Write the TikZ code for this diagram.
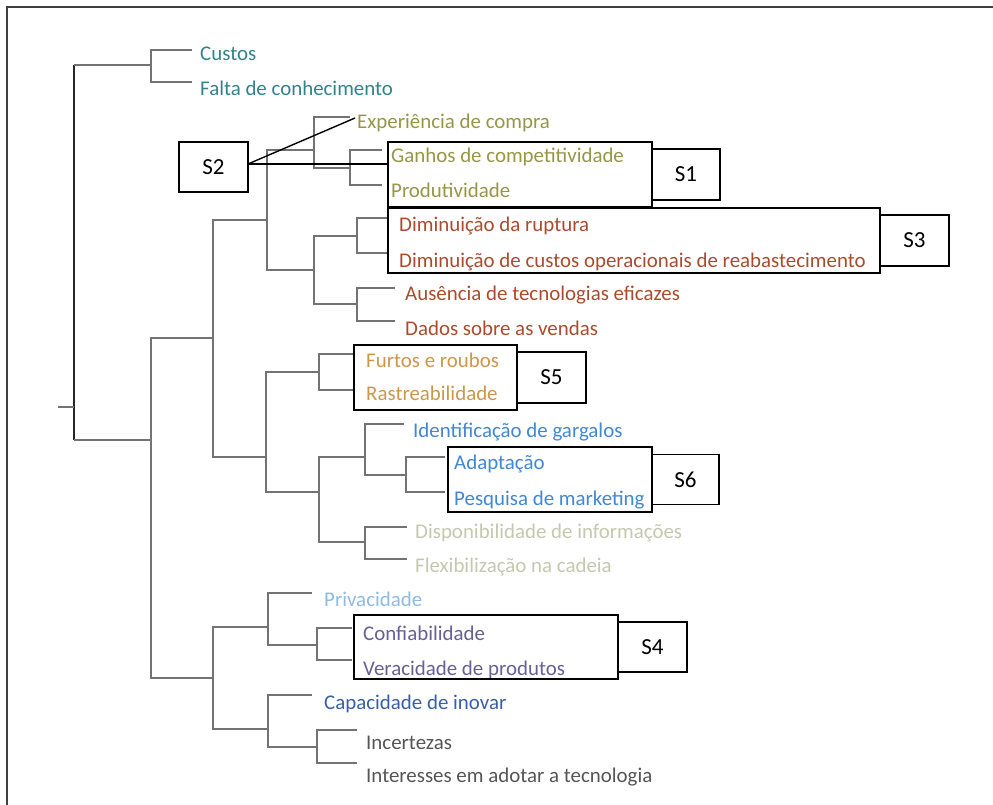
\documentclass[tikz,border=0pt]{standalone}
\usepackage{fontspec}
\setmainfont{Carlito}
\usepackage{xcolor}
\usepackage{tikz}
\usetikzlibrary{positioning}

\definecolor{treegray}{RGB}{115,115,115}
\definecolor{cteal}{RGB}{50,130,140}
\definecolor{colive}{RGB}{150,150,70}
\definecolor{cbrown}{RGB}{170,75,45}
\definecolor{ctan}{RGB}{205,150,75}
\definecolor{cblue}{RGB}{65,135,210}
\definecolor{cpale}{RGB}{195,200,175}
\definecolor{clight}{RGB}{145,185,225}
\definecolor{cpurple}{RGB}{105,95,150}
\definecolor{cnavy}{RGB}{55,95,170}
\definecolor{cgray}{RGB}{85,85,85}

\begin{document}
\begin{tikzpicture}[x=1pt,y=-1pt]
	\useasboundingbox (0,0) rectangle (993,805);
	\draw[line width=2pt,black!75] (7,805) -- (7,7) -- (993,7);
	
	\begin{scope}[line width=2.8pt,draw=treegray]
		\draw[black!85,line width=1.7pt] (74,65) -- (74,440);
		\draw (58,407) -- (74,407);
		\draw (74,65) -- (151,65);
		\draw (74,440) -- (151,440);
		\draw (192,50) -| (151,82) -- (192,82);
		\draw (213,338) -| (151,678) -- (213,678);
		\draw (267,220) -| (213,457) -- (266,457);
		\draw (314,150) -| (267,270) -- (314,270);
		\draw (350,117) -| (314,168) -- (350,168);
		\draw (382,150) -| (350,185) -- (382,185);
		\draw (357,236) -| (314,304) -- (357,304);
		\draw (387,218) -| (357,253) -- (387,253);
		\draw (395,288) -| (357,321) -- (395,321);
		\draw (319,372) -| (266,492) -- (319,492);
		\draw (355,354) -| (319,390) -- (355,390);
		\draw (365,457) -| (319,542) -- (365,542);
		\draw (404,424) -| (365,475) -- (406,475);
		\draw (445,457) -| (406,492) -- (445,492);
		\draw (407,527) -| (365,559) -- (407,559);
		\draw (268,627) -| (213,729) -- (268,729);
		\draw (312,593) -| (268,645) -- (317,645);
		\draw (352,628) -| (317,660) -- (352,660);
		\draw (312,695) -| (268,747) -- (317,747);
		\draw (357,730) -| (317,763) -- (357,763);
	\end{scope}
	
	\begin{scope}[every node/.style={anchor=base west,inner sep=0pt,
			font=\fontsize{20.9}{24}\selectfont}]
		\node[text=cteal] (custos) at (200,61) {Custos};
		\node[text=cteal] (falta) at (200,96) {Falta de conhecimento};
		\node[text=colive] (experiencia) at (357,129) {Experiência de compra};
		\node[text=colive] (ganhos) at (391,163) {Ganhos de competitividade};
		\node[text=colive] (produtividade) at (391,197) {Produtividade};
		\node[text=cbrown] (ruptura) at (399,231) {Diminuição da ruptura};
		\node[text=cbrown] (reabast) at (399,267) {Diminuição de custos operacionais de reabastecimento};
		\node[text=cbrown] (ausencia) at (405,300) {Ausência de tecnologias eficazes};
		\node[text=cbrown] (dados) at (405,335) {Dados sobre as vendas};
		\node[text=ctan] (furtos) at (366,367) {Furtos e roubos};
		\node[text=ctan] (rastreab) at (366,400) {Rastreabilidade};
		\node[text=cblue] (gargalos) at (413,437) {Identificação de gargalos};
		\node[text=cblue] (adaptacao) at (454,469) {Adaptação};
		\node[text=cblue] (pesquisa) at (454,505) {Pesquisa de marketing};
		\node[text=cpale] (disponib) at (415,538) {Disponibilidade de informações};
		\node[text=cpale] (flexib) at (415,572) {Flexibilização na cadeia};
		\node[text=clight] (privacidade) at (324,606) {Privacidade};
		\node[text=cpurple] (confiab) at (363,640) {Confiabilidade};
		\node[text=cpurple] (veracidade) at (363,675) {Veracidade de produtos};
		\node[text=cnavy] (inovar) at (324,709) {Capacidade de inovar};
		\node[text=cgray] (incertezas) at (366,749) {Incertezas};
		\node[text=cgray] (interesses) at (366,782) {Interesses em adotar a tecnologia};
	\end{scope}
	
	\begin{scope}[every node/.style={draw=black,line width=1.8pt,inner sep=0pt,
			outer sep=0pt,font=\fontsize{23}{26}\selectfont}]
		\node[anchor=north west,minimum width=69pt,minimum height=50pt] (boxS2) at (179,142) {S2};
		\node[anchor=north west,minimum width=264pt,minimum height=65pt] (boxS1) at (388,142) {};
		\node[right=0pt of boxS1,minimum width=68pt,minimum height=51pt] (tagS1) {S1};
		\node[anchor=north west,minimum width=492pt,minimum height=65pt] (boxS3) at (388,208) {};
		\node[right=0pt of boxS3,minimum width=69pt,minimum height=51pt] (tagS3) {S3};
		\node[anchor=north west,minimum width=163pt,minimum height=65pt] (boxS5) at (354,345) {};
		\node[right=0pt of boxS5,minimum width=69pt,minimum height=51pt] (tagS5) {S5};
		\node[anchor=north west,minimum width=204pt,minimum height=65pt] (boxS6) at (448,447) {};
		\node[right=0pt of boxS6,minimum width=67pt,minimum height=50pt] (tagS6) {S6};
		\node[anchor=north west,minimum width=264pt,minimum height=64pt] (boxS4) at (354,615) {};
		\node[right=0pt of boxS4,minimum width=69pt,minimum height=50pt] (tagS4) {S4};
	\end{scope}
	
	% S2
	\coordinate (expin) at (355,118);
	\draw[line width=1.4pt] ([yshift=3pt]boxS2.east) coordinate (s2out) -- (expin);
	\draw[line width=1.4pt] (s2out) -- (s2out -| boxS1.west);
\end{tikzpicture}
\end{document}
